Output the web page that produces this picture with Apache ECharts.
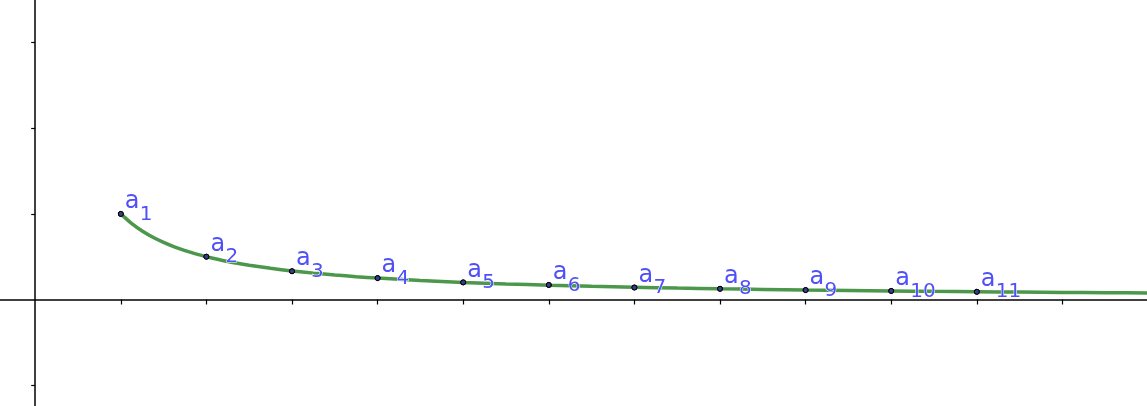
<!DOCTYPE html>
<html>
<head>
<meta charset="utf-8">
<style>html,body{margin:0;padding:0;background:#fff;}#c{width:1147px;height:406px;}</style>
<script src="https://cdn.jsdelivr.net/npm/echarts@6/dist/echarts.min.js"></script>
</head>
<body>
<div id="c"></div>
<script>
// Sequence points a_n (n, value)
var pointIndex = [1, 2, 3, 4, 5, 6, 7, 8, 9, 10, 11];
var pointValues = [1, 0.5, 0.33, 0.25, 0.2, 0.17, 0.14, 0.125, 0.11, 0.1, 0.09];
var pointNames = ['1', '2', '3', '4', '5', '6', '7', '8', '9', '10', '11'];
// Curve samples
var curveX = [1, 1.125, 1.25, 1.375, 1.5, 1.625, 1.75, 1.875, 2, 2.25, 2.5, 2.75, 3, 3.25, 3.5, 3.75, 4, 4.5, 5, 5.5, 6, 6.5, 7, 7.5, 8, 8.5, 9, 9.5, 10, 10.5, 11, 11.5, 12, 12.5, 13, 13.5];
var curveY = [1, 0.889, 0.8, 0.727, 0.667, 0.615, 0.571, 0.533, 0.5, 0.444, 0.4, 0.364, 0.333, 0.308, 0.286, 0.267, 0.25, 0.222, 0.2, 0.182, 0.167, 0.154, 0.143, 0.133, 0.125, 0.118, 0.111, 0.105, 0.1, 0.095, 0.091, 0.087, 0.083, 0.08, 0.077, 0.074];
// Tick positions
var xTicks = [1, 2, 3, 4, 5, 6, 7, 8, 9, 10, 11, 12];
var yTicks = [-1, 1, 2, 3];

var chart = echarts.init(document.getElementById('c'));
var pts = pointIndex.map(function (x, i) { return [x, pointValues[i], pointNames[i]]; });
var curve = curveX.map(function (x, i) { return [x, curveY[i]]; });
var labelColor = '#5050f8';
var pointStyle = { color: '#3a3a8a', borderColor: '#000', borderWidth: 1, opacity: 1 };
var axisCommon = {
  type: 'value',
  axisLine: { onZero: true, lineStyle: { color: '#000', width: 1.5 } },
  axisLabel: { show: false },
  splitLine: { show: false }
};
chart.setOption({
  animation: false,
  backgroundColor: '#fff',
  grid: { left: 0, right: 0, top: 0, bottom: 0, containLabel: false },
  xAxis: Object.assign({}, axisCommon, {
    min: -0.4112, max: 12.988,
    axisTick: { show: true, length: 5, customValues: xTicks, lineStyle: { color: '#000', width: 1.2 } }
  }),
  yAxis: Object.assign({}, axisCommon, {
    min: -1.2442, max: 3.4988,
    axisTick: { show: true, length: 4, customValues: yTicks, lineStyle: { color: '#000', width: 1.2 } }
  }),
  series: [
    {
      type: 'line',
      data: curve,
      smooth: 0.2,
      showSymbol: false,
      lineStyle: { color: '#4b974b', width: 3.5 },
      z: 2
    },
    {
      type: 'scatter',
      data: pts,
      symbol: 'circle',
      symbolSize: 5,
      itemStyle: pointStyle,
      label: {
        show: true,
        formatter: 'a',
        position: [7, -9],
        align: 'left',
        verticalAlign: 'middle',
        fontFamily: 'DejaVu Sans',
        fontSize: 24,
        color: labelColor,
        textBorderColor: '#fff',
        textBorderWidth: 1
      },
      z: 4
    },
    {
      type: 'scatter',
      data: pts,
      symbol: 'circle',
      symbolSize: 5,
      itemStyle: pointStyle,
      label: {
        show: true,
        formatter: function (p) { return p.data[2]; },
        position: [22, 3.5],
        align: 'left',
        verticalAlign: 'middle',
        fontFamily: 'DejaVu Sans',
        fontSize: 20,
        color: labelColor,
        textBorderColor: '#fff',
        textBorderWidth: 1
      },
      z: 3
    }
  ]
});
</script>
</body>
</html>
